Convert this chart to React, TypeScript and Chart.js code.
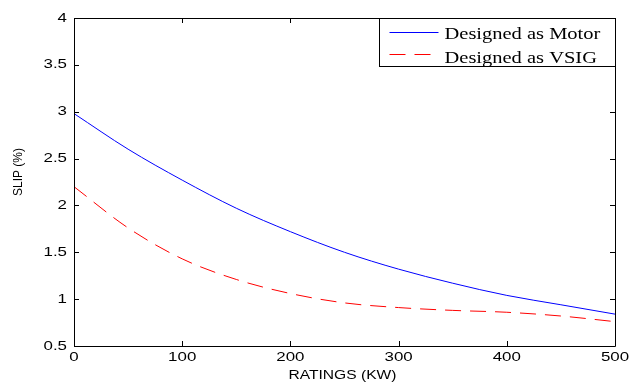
import React, { useEffect, useRef } from "react";
import { Chart, registerables } from "chart.js";

Chart.register(...registerables);

const ratings = [0, 50, 100, 150, 200, 250, 300, 350, 400, 450, 500];
const motorSlip = [2.98, 2.6, 2.27, 1.97, 1.72, 1.5, 1.32, 1.17, 1.04, 0.94, 0.84];
const vsigSlip = [2.2, 1.76, 1.43, 1.21, 1.06, 0.96, 0.91, 0.88, 0.86, 0.82, 0.76];
const xTicks = [0, 100, 200, 300, 400, 500];
const yTicks = [0.5, 1, 1.5, 2, 2.5, 3, 3.5, 4];
const seriesNames = ["Designed as Motor", "Designed as VSIG"];
const xTitle = "RATINGS (KW)";
const yTitle = "SLIP (%)";

const SX = 1.3;
const SANS = '"Liberation Sans", Arial, sans-serif';
const SERIF = '"Liberation Serif", "Times New Roman", serif';

function drawText(ctx: any, text: string, x: number, y: number, align: string, baseline: string, font: string, sx = SX) {
  ctx.save();
  ctx.translate(x, y);
  ctx.scale(sx, 1);
  ctx.font = font;
  ctx.textAlign = align;
  ctx.textBaseline = baseline;
  ctx.fillStyle = "#000";
  ctx.fillText(text, 0, 0);
  ctx.restore();
}

const frameTicks = {
  id: "frameTicks",
  afterDraw(chart: any) {
    const { ctx, chartArea: a, scales } = chart;
    ctx.save();
    ctx.strokeStyle = "#000";
    ctx.lineWidth = 1;
    ctx.beginPath();
    ctx.rect(Math.round(a.left) + 0.5, Math.round(a.top) + 0.5, Math.round(a.right - a.left), Math.round(a.bottom - a.top));
    ctx.stroke();
    const L = 5;
    ctx.beginPath();
    for (const v of xTicks) {
      const x = Math.round(scales.x.getPixelForValue(v)) + 0.5;
      ctx.moveTo(x, a.bottom);
      ctx.lineTo(x, a.bottom - L);
      ctx.moveTo(x, a.top);
      ctx.lineTo(x, a.top + L);
    }
    for (const v of yTicks) {
      const y = Math.round(scales.y.getPixelForValue(v)) + 0.5;
      ctx.moveTo(a.left, y);
      ctx.lineTo(a.left + L, y);
      ctx.moveTo(a.right, y);
      ctx.lineTo(a.right - L, y);
    }
    ctx.stroke();

    // tick labels
    const tickFont = "13px " + SANS;
    for (const v of xTicks) {
      drawText(ctx, String(v), scales.x.getPixelForValue(v), a.bottom + 11, "center", "middle", tickFont);
    }
    for (const v of yTicks) {
      drawText(ctx, String(v), a.left - 7, scales.y.getPixelForValue(v), "right", "middle", tickFont);
    }
    // axis titles
    drawText(ctx, xTitle, (a.left + a.right) / 2 - 2, a.bottom + 30, "center", "middle", "12px " + SANS);
    ctx.save();
    ctx.translate(19, (a.top + a.bottom) / 2 - 10);
    ctx.rotate(-Math.PI / 2);
    ctx.scale(1, SX * 0.8);
    ctx.font = "12px " + SANS;
    ctx.textAlign = "center";
    ctx.textBaseline = "middle";
    ctx.fillStyle = "#000";
    ctx.fillText(yTitle, 0, 0);
    ctx.restore();

    // legend
    const w = 236, h = 48;
    const bx = Math.round(a.right) - w + 0.5;
    const by = Math.round(a.top) + 0.5;
    ctx.fillStyle = "#fff";
    ctx.fillRect(bx, by, w, h);
    ctx.strokeStyle = "#000";
    ctx.strokeRect(bx, by, w, h);
    const rows = [
      { color: "#0000ff", dash: [] as number[], y: by + 13, ty: by + 20 },
      { color: "#ff0000", dash: [16, 9], y: by + 35, ty: by + 44 },
    ];
    rows.forEach((r, i) => {
      ctx.strokeStyle = r.color;
      ctx.setLineDash(r.dash);
      ctx.beginPath();
      ctx.moveTo(bx + 10, Math.round(r.y) + 0.5);
      ctx.lineTo(bx + 59, Math.round(r.y) + 0.5);
      ctx.stroke();
      ctx.setLineDash([]);
      drawText(ctx, seriesNames[i], bx + 65, r.ty, "left", "alphabetic", "16px " + SERIF, 1.28);
    });
    ctx.restore();
  },
};

export default function App() {
  const ref = useRef<HTMLCanvasElement>(null);
  useEffect(() => {
    document.body.style.margin = "0";
    const chart = new Chart(ref.current!, {
      type: "line",
      data: {
        datasets: [
          {
            label: seriesNames[0],
            data: ratings.map((x, i) => ({ x, y: motorSlip[i] })),
            borderColor: "#0000ff",
            borderWidth: 1,
            pointRadius: 0,
            cubicInterpolationMode: "monotone",
          },
          {
            label: seriesNames[1],
            data: ratings.map((x, i) => ({ x, y: vsigSlip[i] })),
            borderColor: "#ff0000",
            borderWidth: 1,
            borderDash: [16, 9],
            pointRadius: 0,
            cubicInterpolationMode: "monotone",
          },
        ],
      },
      options: {
        animation: false,
        responsive: false,
        layout: { padding: { left: 0, top: 18, right: 26, bottom: 0 } },
        plugins: { legend: { display: false }, tooltip: { enabled: false } },
        scales: {
          x: {
            type: "linear",
            min: 0,
            max: 500,
            afterBuildTicks: (s: any) => { s.ticks = xTicks.map((v) => ({ value: v })); },
            afterFit: (s: any) => { s.height = 37; },
            grid: { display: false, drawTicks: false },
            border: { display: false },
            ticks: { display: false },
          },
          y: {
            type: "linear",
            min: 0.5,
            max: 4,
            afterBuildTicks: (s: any) => { s.ticks = yTicks.map((v) => ({ value: v })); },
            afterFit: (s: any) => { s.width = 74; },
            grid: { display: false, drawTicks: false },
            border: { display: false },
            ticks: { display: false },
          },
        },
      },
      plugins: [frameTicks],
    });
    return () => chart.destroy();
  }, []);
  return (
    <div style={{ width: 641, height: 383 }}>
      <canvas ref={ref} width={641} height={383} style={{ display: "block" }} />
    </div>
  );
}
